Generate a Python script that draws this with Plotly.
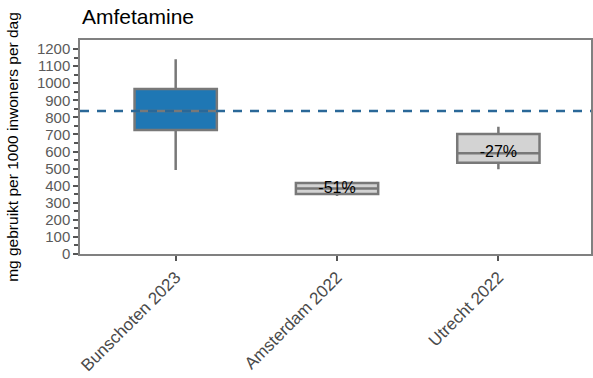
import plotly.graph_objects as go

# Amfetamine, mg per 1000 inwoners per dag
categories = ["Bunschoten 2023", "Amsterdam 2022", "Utrecht 2022"]
lower = [492, 340, 496]
q1 = [726, 351, 535]
median = [837, 383, 590]
q3 = [966, 416, 703]
upper = [1141, 425, 745]
fills = ["#1f77b4", "#d3d3d3", "#d3d3d3"]
change_labels = ["", "-51%", "-27%"]
reference_level = 837

fig = go.Figure()
for i, cat in enumerate(categories):
    fig.add_trace(go.Box(
        x=[cat], q1=[q1[i]], median=[median[i]], q3=[q3[i]],
        lowerfence=[lower[i]], upperfence=[upper[i]],
        fillcolor=fills[i], line=dict(color="#787878", width=2.5),
        whiskerwidth=0, width=0.51, boxpoints=False,
        hoverinfo="skip", showlegend=False,
    ))

# percentage change labels on the medians
fig.add_trace(go.Scatter(
    x=[c for c, t in zip(categories, change_labels) if t],
    y=[m for m, t in zip(median, change_labels) if t],
    text=[t for t in change_labels if t],
    mode="text", textposition="middle center",
    textfont=dict(size=16, color="#000000", family="Liberation Sans, Arial"),
    showlegend=False, hoverinfo="skip",
))

fig.add_shape(type="line", xref="paper", x0=0, x1=1, yref="y",
              y0=reference_level, y1=reference_level,
              line=dict(color="#2a6898", width=2.5, dash="9px,8px"))

fig.update_layout(
    width=593, height=378,
    margin=dict(l=80, r=0, t=40, b=124),
    paper_bgcolor="white", plot_bgcolor="white",
    font=dict(family="Liberation Sans, Arial", color="#555555"),
    title=dict(text="Amfetamine", x=82/593, xanchor="left", y=1 - 17/378,
               yanchor="middle", font=dict(size=21, color="#000000")),
    boxmode="overlay",
)
fig.update_xaxes(
    type="category", range=[-0.593, 2.574],
    showline=True, linecolor="#808080", linewidth=1.5, mirror=True,
    ticks="outside", ticklen=5, tickcolor="#555555", tickwidth=2,
    tickangle=-45, tickfont=dict(size=17, color="#4a4a4a"),
    showgrid=False, zeroline=False,
)
fig.update_yaxes(
    range=[0, 1253], tickvals=list(range(0, 1201, 100)),
    showline=True, linecolor="#808080", linewidth=1.5, mirror=True,
    ticks="outside", ticklen=5, tickcolor="#555555", tickwidth=2,
    minor=dict(tickvals=list(range(50, 1201, 100)), ticks="outside",
               ticklen=4, tickcolor="#555555", tickwidth=1.5),
    tickfont=dict(size=15, color="#5a5a5a"),
    title=dict(text="mg gebruikt per 1000 inwoners per dag",
               font=dict(size=15.5, color="#000000"), standoff=14),
    showgrid=False, zeroline=False,
)

fig.write_html("out.html")
